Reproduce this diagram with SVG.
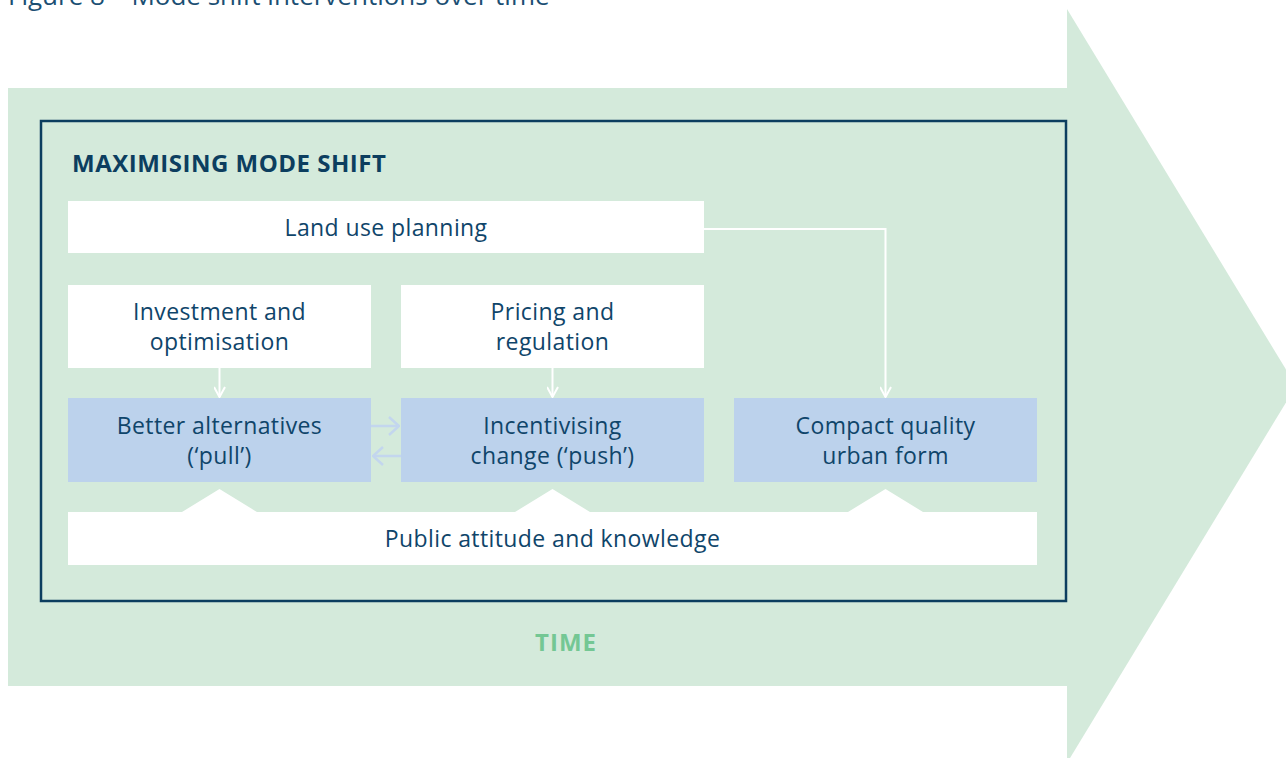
<svg xmlns="http://www.w3.org/2000/svg" width="1286" height="758" viewBox="0 0 1286 758">
  <style>
    .lbl { font-family: "Open Sans", "Liberation Sans", sans-serif; font-size: 23px; letter-spacing: 0.4px; fill: #0f456a; text-anchor: middle; }
    .white { fill: #ffffff; }
    .blue { fill: #bcd2ec; }
    .wire { fill: none; stroke: #ffffff; stroke-width: 2; }
    .wire-blue { fill: none; stroke: #c3d6ee; stroke-width: 2.5; }
  </style>
  <defs>
    <marker id="chev-w" viewBox="0 0 12 12" refX="11" refY="6" markerWidth="12" markerHeight="12" markerUnits="userSpaceOnUse" orient="auto">
      <path d="M1,0.5 L11,6 L1,11.5" fill="none" stroke="#ffffff" stroke-width="2"/>
    </marker>
    <marker id="chev-b" viewBox="0 0 12 20" refX="11" refY="10" markerWidth="12" markerHeight="20" markerUnits="userSpaceOnUse" orient="auto">
      <path d="M1,1 L11,10 L1,19" fill="none" stroke="#c3d6ee" stroke-width="2.5"/>
    </marker>
  </defs>

  <rect width="1286" height="758" fill="#ffffff"/>

  <!-- caption, running off the top edge -->
  <text x="8" y="5" font-family="'Open Sans', 'Liberation Sans', sans-serif" font-size="26" fill="#1b4f73">Figure 8 – Mode shift interventions over time</text>

  <!-- time arrow -->
  <g id="time-arrow">
    <rect x="8" y="88" width="1060" height="598" fill="#d4eadb"/>
    <polygon points="1067,9 1296,386 1067,763" fill="#d4eadb"/>
    <text x="566" y="651" font-family="'Open Sans', 'Liberation Sans', sans-serif" font-size="24" font-weight="700" letter-spacing="1" fill="#74c794" text-anchor="middle">TIME</text>
  </g>

  <!-- frame -->
  <g id="frame">
    <rect x="41" y="121" width="1025" height="480" fill="none" stroke="#0c3e5f" stroke-width="2.5"/>
    <text x="72" y="172" font-family="'Open Sans', 'Liberation Sans', sans-serif" font-size="24" font-weight="700" letter-spacing="0.5" fill="#0c3e5f">MAXIMISING MODE SHIFT</text>
  </g>

  <g id="land-use">
    <rect class="white" x="68" y="201" width="636" height="52"/>
    <text class="lbl" x="386" y="236">Land use planning</text>
  </g>

  <g id="investment">
    <rect class="white" x="68" y="285" width="303" height="83"/>
    <text class="lbl" x="219.5" y="320">Investment and</text>
    <text class="lbl" x="219.5" y="350">optimisation</text>
  </g>

  <g id="pricing">
    <rect class="white" x="401" y="285" width="303" height="83"/>
    <text class="lbl" x="552.5" y="320">Pricing and</text>
    <text class="lbl" x="552.5" y="350">regulation</text>
  </g>

  <g id="better-alternatives">
    <rect class="blue" x="68" y="398" width="303" height="84"/>
    <text class="lbl" x="219.5" y="434">Better alternatives</text>
    <text class="lbl" x="219.5" y="464">(‘pull’)</text>
  </g>

  <g id="incentivising-change">
    <rect class="blue" x="401" y="398" width="303" height="84"/>
    <text class="lbl" x="552.5" y="434">Incentivising</text>
    <text class="lbl" x="552.5" y="464">change (‘push’)</text>
  </g>

  <g id="compact-urban-form">
    <rect class="blue" x="734" y="398" width="303" height="84"/>
    <text class="lbl" x="885.5" y="434">Compact quality</text>
    <text class="lbl" x="885.5" y="464">urban form</text>
  </g>

  <g id="public-attitude">
    <path class="white" d="M68,512 H182 L219.5,489 L257,512 H515 L552.5,489 L590,512 H848 L885.5,489 L923,512 H1037 V565 H68 Z"/>
    <text class="lbl" x="552.5" y="547">Public attitude and knowledge</text>
  </g>

  <g id="connectors">
    <path class="wire" d="M219.5,368 V397" marker-end="url(#chev-w)"/>
    <path class="wire" d="M552.5,368 V397" marker-end="url(#chev-w)"/>
    <path class="wire" d="M704,229 H885.5 V397" marker-end="url(#chev-w)"/>
    <path class="wire-blue" d="M371,426 H399" marker-end="url(#chev-b)"/>
    <path class="wire-blue" d="M401,456 H373" marker-end="url(#chev-b)"/>
  </g>
</svg>
